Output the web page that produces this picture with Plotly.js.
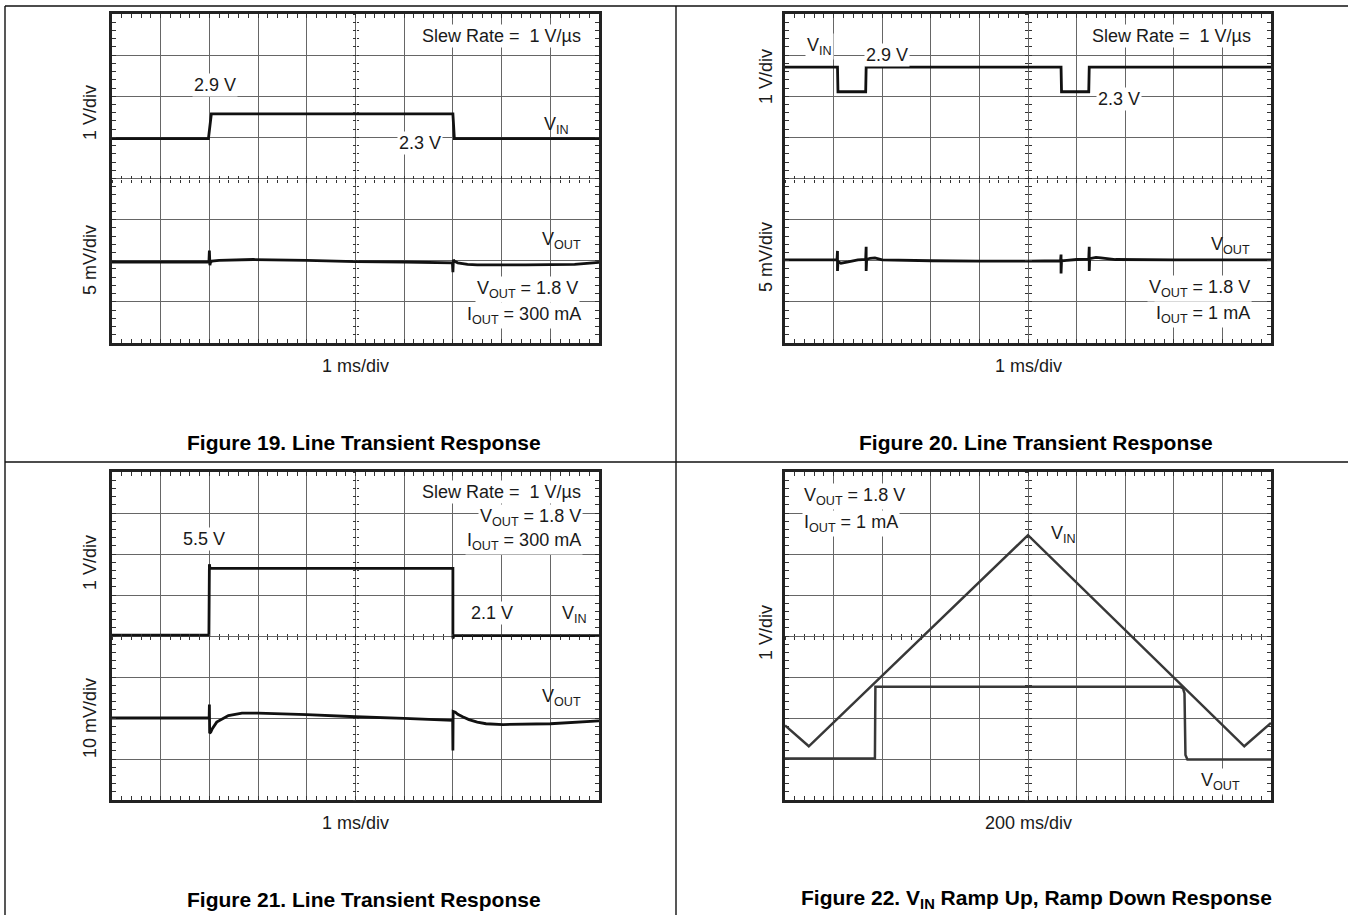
<!DOCTYPE html>
<html>
<head>
<meta charset="utf-8">
<script src="https://cdn.plot.ly/plotly-3.0.1.min.js"></script>
<style>html,body{margin:0;padding:0;background:#fff;}#chart{width:1348px;height:915px;}</style>
</head>
<body>
<div id="chart"></div>
<script>
// ---- Data (screen divisions: x 0..10 div, y 0..8 div) ----
// Figure 19: VIN 2.3 V -> 2.9 V step (1 V/div), VOUT (5 mV/div)
const fig19_vin_x  = [0, 1.98, 2.04, 7.0, 7.03, 10];
const fig19_vin_y  = [4.97, 4.97, 5.57, 5.57, 4.97, 4.97];
const fig19_vout_x = [0, 1.99, 2.0, 2.01, 2.02, 2.05, 2.2, 2.9, 4.0, 5.0, 6.0, 6.99, 7.0, 7.01, 7.03, 7.1, 7.3, 7.5, 8.5, 9.5, 10];
const fig19_vout_y = [1.97, 1.97, 2.25, 1.89, 1.95, 1.99, 2.01, 2.03, 2.01, 1.98, 1.97, 1.95, 1.72, 2.02, 1.99, 1.95, 1.91, 1.90, 1.90, 1.91, 1.96];

// Figure 20: VIN 2.9 V -> 2.3 V dips, VOUT (5 mV/div)
const fig20_vin_x  = [0, 1.08, 1.09, 1.66, 1.67, 5.68, 5.69, 6.25, 6.26, 10];
const fig20_vin_y  = [6.71, 6.71, 6.11, 6.11, 6.71, 6.71, 6.11, 6.11, 6.71, 6.71];
const fig20_vout_x = [0, 1.07, 1.08, 1.08, 1.09, 1.15, 1.3, 1.5, 1.66, 1.67, 1.67, 1.68, 1.75, 1.85, 2.0, 3, 4, 5, 5.67, 5.68, 5.68, 5.69, 5.8, 6.0, 6.25, 6.26, 6.26, 6.27, 6.4, 6.5, 6.8, 8, 10];
const fig20_vout_y = [2.02, 2.02, 2.24, 1.75, 1.98, 1.94, 1.97, 2.02, 2.03, 2.34, 1.75, 2.03, 2.06, 2.07, 2.02, 2.0, 1.99, 1.99, 2.0, 2.15, 1.69, 2.0, 2.01, 2.03, 2.04, 2.34, 1.75, 2.05, 2.08, 2.07, 2.03, 2.02, 2.02];

// Figure 21: VIN 2.1 V -> 5.5 V step, VOUT (10 mV/div)
const fig21_vin_x  = [0, 1.99, 2.0, 2.01, 2.03, 7.0, 7.0, 7.02, 10];
const fig21_vin_y  = [4.02, 4.02, 5.75, 5.66, 5.65, 5.65, 3.94, 4.01, 4.01];
const fig21_vout_x = [0, 1.995, 2.0, 2.005, 2.03, 2.06, 2.15, 2.39, 2.67, 3.0, 4.0, 5.0, 6.0, 6.995, 7.0, 7.005, 7.05, 7.1, 7.2, 7.33, 7.5, 7.68, 8.03, 9.0, 10];
const fig21_vout_y = [2.0, 2.0, 2.33, 1.63, 1.66, 1.74, 1.9, 2.06, 2.12, 2.12, 2.08, 2.03, 1.99, 1.94, 1.21, 2.16, 2.14, 2.09, 2.03, 1.96, 1.9, 1.86, 1.84, 1.86, 1.93];

// Figure 22: VIN ramp up / ramp down, VOUT (1 V/div)
const fig22_vin_x  = [0, 0.49, 5.0, 9.45, 10];
const fig22_vin_y  = [1.82, 1.31, 6.46, 1.31, 1.88];
const fig22_vout_x = [0, 1.85, 1.86, 8.14, 8.19, 8.22, 8.24, 8.28, 10];
const fig22_vout_y = [1.01, 1.01, 2.76, 2.76, 2.72, 2.6, 1.1, 0.99, 0.99];

// Text
const scaleLabels = [["1 V/div", "5 mV/div"], ["1 V/div", "5 mV/div"], ["1 V/div", "10 mV/div"], ["1 V/div"]];
const timeLabels  = ["1 ms/div", "1 ms/div", "1 ms/div", "200 ms/div"];
const captions    = ["Figure 19. Line Transient Response", "Figure 20. Line Transient Response",
                     "Figure 21. Line Transient Response", "Figure 22. V<sub>IN</sub> Ramp Up, Ramp Down Response"];

// ---- Layout geometry (pixels) ----
const W = 1348, H = 915;
const FONT = "Liberation Sans, Arial, Helvetica, sans-serif";
const TXT = "#1a1a1a", GRID = "#666", BORDER = "#222", TICK = "#333";
const colsPx = [[112, 599], [785, 1271], [112, 599], [785, 1271]];
const rowsPx = [[14, 343], [14, 343], [472, 800], [472, 800]];
const px = v => v / W, py = v => 1 - v / H;

const layout = {
  width: W, height: H, margin: {l: 0, r: 0, t: 0, b: 0},
  paper_bgcolor: "#fff", plot_bgcolor: "#fff", showlegend: false,
  font: {family: FONT, size: 18, color: TXT},
  annotations: [], shapes: []
};
const traces = [];

function axName(n, letter) { return n === 1 ? letter + "axis" : letter + "axis" + n; }
function ref(n, letter) { return n === 1 ? letter : letter + n; }

for (let k = 0; k < 4; k++) {
  const n = k + 1;
  const xd = [px(colsPx[k][0]), px(colsPx[k][1])];
  const yd = [py(rowsPx[k][1]), py(rowsPx[k][0])];
  const common = {
    showgrid: true, gridcolor: GRID, gridwidth: 1, zeroline: false,
    showline: true, linecolor: BORDER, linewidth: 2.8, mirror: "allticks",
    ticks: "inside", ticklen: 4, tickcolor: TICK, tickwidth: 1, showticklabels: false,
    tick0: 0, dtick: 1, fixedrange: true,
    minor: {tick0: 0, dtick: 0.2, ticks: "inside", ticklen: 4, tickcolor: TICK, tickwidth: 1, showgrid: false}
  };
  layout[axName(n, "x")] = Object.assign({}, common, {domain: xd, anchor: ref(n, "y"), range: [0, 10]});
  layout[axName(n, "y")] = Object.assign({}, common, {domain: yd, anchor: ref(n, "x"), range: [0, 8]});

  // centre cross-hair tick marks (oscilloscope graticule)
  const cy = (yd[0] + yd[1]) / 2, cx = (xd[0] + xd[1]) / 2;
  [["outside", 4 + n, 3], ["inside", 8 + n, 2.5]].forEach(([side, m, len]) => {
    const c = {showgrid: false, zeroline: false, showline: false, showticklabels: false,
      ticks: side, ticklen: len, tickcolor: TICK, tickwidth: 1, tick0: 0, dtick: 1, fixedrange: true,
      minor: {tick0: 0, dtick: 0.2, ticks: side, ticklen: len, tickcolor: TICK, tickwidth: 1, showgrid: false}};
    layout["xaxis" + m] = Object.assign({}, c, {overlaying: ref(n, "x"), anchor: "free", position: cy, range: [0, 10]});
    layout["yaxis" + m] = Object.assign({}, c, {overlaying: ref(n, "y"), anchor: "free", position: cx, range: [0, 8]});
    traces.push({type: "scatter", mode: "lines", x: [], y: [], xaxis: "x" + m, yaxis: ref(n, "y"), hoverinfo: "skip", showlegend: false});
    traces.push({type: "scatter", mode: "lines", x: [], y: [], xaxis: ref(n, "x"), yaxis: "y" + m, hoverinfo: "skip", showlegend: false});
  });

  // time/div label and caption
  const midX = (colsPx[k][0] + colsPx[k][1]) / 2;
  layout.annotations.push({xref: "paper", yref: "paper", x: px(midX), y: py(rowsPx[k][1] + 23),
    text: timeLabels[k], showarrow: false, xanchor: "center", yanchor: "middle", font: {size: 18, color: TXT}});
  layout.annotations.push({xref: "paper", yref: "paper", x: px(midX + 8), y: py(rowsPx[k][1] + 99),
    text: "<b>" + captions[k] + "</b>", showarrow: false, xanchor: "center", yanchor: "middle",
    font: {size: 21, color: "#000"}});
}

// vertical scale labels
const scalePos = [[[90, 113], [90, 260]], [[766, 77], [766, 257]], [[90, 563], [90, 718]], [[766, 633]]];
scalePos.forEach((arr, k) => arr.forEach((p, i) => {
  layout.annotations.push({xref: "paper", yref: "paper", x: px(p[0]), y: py(p[1]), text: scaleLabels[k][i],
    textangle: -90, showarrow: false, xanchor: "center", yanchor: "middle", font: {size: 18, color: TXT}});
}));

// traces
function trace(x, y, n, color, width) {
  return {type: "scatter", mode: "lines", x: x, y: y, xaxis: ref(n, "x"), yaxis: ref(n, "y"),
    line: {color: color, width: width, simplify: false}, hoverinfo: "skip", showlegend: false};
}
traces.push(trace(fig19_vin_x, fig19_vin_y, 1, "#111", 2.8));
traces.push(trace(fig19_vout_x, fig19_vout_y, 1, "#111", 2.8));
traces.push(trace(fig20_vin_x, fig20_vin_y, 2, "#111", 2.8));
traces.push(trace(fig20_vout_x, fig20_vout_y, 2, "#111", 2.8));
traces.push(trace(fig21_vin_x, fig21_vin_y, 3, "#111", 2.8));
traces.push(trace(fig21_vout_x, fig21_vout_y, 3, "#111", 2.8));
traces.push(trace(fig22_vin_x, fig22_vin_y, 4, "#383838", 2.5));
traces.push(trace(fig22_vout_x, fig22_vout_y, 4, "#383838", 2.5));

// in-plot labels (axis/division coordinates)
function lab(n, x, y, text, xanchor, bg) {
  layout.annotations.push({xref: ref(n, "x"), yref: ref(n, "y"), x: x, y: y, text: text, showarrow: false,
    xanchor: xanchor || "center", yanchor: "middle", bgcolor: bg === false ? "rgba(0,0,0,0)" : "#fff",
    borderpad: 1, font: {size: 18, color: TXT}});
}
const SLEW = "Slew Rate =\u00a0 1 V/\u00b5s";
lab(1, 9.68, 7.47, SLEW, "right");
lab(1, 2.11, 6.28, "2.9 V");
lab(1, 6.32, 4.87, "2.3 V");
lab(1, 9.12, 5.3, "V<sub>IN</sub>", "center", false);
lab(1, 9.24, 2.5, "V<sub>OUT</sub>", "center", false);
lab(1, 9.6, 1.31, "V<sub>OUT</sub> = 1.8 V", "right");
lab(1, 9.68, 0.68, "I<sub>OUT</sub> = 300 mA", "right");

lab(2, 9.63, 7.47, SLEW, "right");
lab(2, 0.72, 7.22, "V<sub>IN</sub>");
lab(2, 2.1, 7.0, "2.9 V");
lab(2, 6.87, 5.94, "2.3 V");
lab(2, 9.16, 2.36, "V<sub>OUT</sub>", "center", false);
lab(2, 9.61, 1.32, "V<sub>OUT</sub> = 1.8 V", "right");
lab(2, 9.61, 0.7, "I<sub>OUT</sub> = 1 mA", "right");

lab(3, 9.68, 7.52, SLEW, "right");
lab(3, 9.68, 6.9, "V<sub>OUT</sub> = 1.8 V", "right");
lab(3, 9.68, 6.3, "I<sub>OUT</sub> = 300 mA", "right");
lab(3, 1.89, 6.37, "5.5 V");
lab(3, 7.8, 4.57, "2.1 V");
lab(3, 9.49, 4.52, "V<sub>IN</sub>", "center", false);
lab(3, 9.24, 2.5, "V<sub>OUT</sub>", "center", false);

lab(4, 0.35, 7.4, "V<sub>OUT</sub> = 1.8 V", "left");
lab(4, 0.35, 6.74, "I<sub>OUT</sub> = 1 mA", "left");
lab(4, 5.73, 6.47, "V<sub>IN</sub>", "center", false);
lab(4, 8.97, 0.46, "V<sub>OUT</sub>");

// page frame lines (document table borders)
const fr = {type: "line", xref: "paper", yref: "paper", line: {color: "#111", width: 1.4}, layer: "above"};
layout.shapes.push(Object.assign({}, fr, {x0: px(5), x1: 1, y0: py(6), y1: py(6)}));
layout.shapes.push(Object.assign({}, fr, {x0: px(5), x1: px(5), y0: 0, y1: py(6)}));
layout.shapes.push(Object.assign({}, fr, {x0: px(676), x1: px(676), y0: 0, y1: py(6)}));
layout.shapes.push(Object.assign({}, fr, {x0: px(5), x1: 1, y0: py(462), y1: py(462)}));

Plotly.newPlot("chart", traces, layout, {staticPlot: true, displayModeBar: false});
</script>
</body>
</html>
